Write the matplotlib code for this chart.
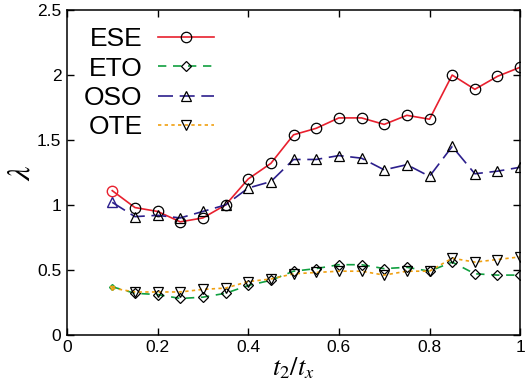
import matplotlib
matplotlib.use('Agg')
import matplotlib.pyplot as plt

plt.rcParams['font.family'] = ['Liberation Sans', 'DejaVu Sans']
plt.rcParams['mathtext.fontset'] = 'stix'

# data
ratio = [0.10, 0.15, 0.20, 0.25, 0.30, 0.35, 0.40, 0.45, 0.50, 0.55,
         0.60, 0.65, 0.70, 0.75, 0.80, 0.85, 0.90, 0.95, 1.00]
ese = [1.11, 0.98, 0.95, 0.87, 0.90, 1.00, 1.20, 1.32, 1.54, 1.59,
       1.67, 1.67, 1.62, 1.69, 1.66, 2.00, 1.89, 1.99, 2.06]
eto = [0.37, 0.32, 0.31, 0.28, 0.29, 0.32, 0.38, 0.42, 0.49, 0.51,
       0.54, 0.54, 0.51, 0.52, 0.49, 0.56, 0.47, 0.46, 0.46]
oso = [1.02, 0.91, 0.92, 0.90, 0.95, 1.00, 1.13, 1.18, 1.35, 1.35,
       1.38, 1.36, 1.27, 1.31, 1.22, 1.45, 1.24, 1.26, 1.29]
ote = [0.36, 0.33, 0.33, 0.33, 0.35, 0.36, 0.41, 0.43, 0.47, 0.48,
       0.49, 0.49, 0.46, 0.49, 0.49, 0.59, 0.56, 0.58, 0.60]

series = [
    ('ESE', ese, '#e8202e', '-', 'o'),
    ('ETO', eto, '#10a040', (0, (5, 4)), 'D'),
    ('OSO', oso, '#2c1f8c', (0, (9, 4)), '^'),
    ('OTE', ote, '#f0a010', (0, (2, 2)), 'v'),
]

fig = plt.figure(figsize=(5.27, 3.88), dpi=100)
ax = fig.add_axes([0.127, 0.137, 0.860, 0.837])

for name, vals, col, ls, mk in series:
    ms = 5.5 if mk == 'D' else 7.5
    ax.plot(ratio, vals, color=col, linestyle=ls, linewidth=1.2,
            marker=mk, markersize=ms, markerfacecolor='none',
            markeredgecolor='black', markeredgewidth=0.9, label=name,
            markevery=slice(1, None))
    # first point drawn in the line colour, as in the original
    first_ms = ms if mk in ('o', '^') else 3
    ax.plot(ratio[:1], vals[:1], linestyle='none', marker=mk,
            markersize=first_ms, markerfacecolor='none',
            markeredgecolor=col, markeredgewidth=1.0)

ax.set_xlim(0, 1)
ax.set_ylim(0, 2.5)
ax.set_xticks([0, 0.2, 0.4, 0.6, 0.8, 1.0])
ax.set_xticklabels(['0', '0.2', '0.4', '0.6', '0.8', '1'])
ax.set_yticks([0, 0.5, 1, 1.5, 2, 2.5])
ax.set_yticklabels(['0', '0.5', '1', '1.5', '2', '2.5'])
ax.tick_params(direction='in', top=True, right=True, labelsize=12.5,
               length=5, width=1, pad=4)
for sp in ax.spines.values():
    sp.set_linewidth(1.1)

ax.set_xlabel(r'$t_2/t_x$', fontsize=19, labelpad=0)
ax.set_ylabel(r'$\lambda$', fontsize=23)
ax.yaxis.set_label_coords(-0.068, 0.5)

leg = ax.legend(loc='upper left', frameon=False, markerfirst=False,
                fontsize=19, handlelength=2.1, labelspacing=0.2,
                borderaxespad=0.25, handletextpad=0.6,
                bbox_to_anchor=(0.0, 1.0))

fig.savefig('out.png', dpi=100)
